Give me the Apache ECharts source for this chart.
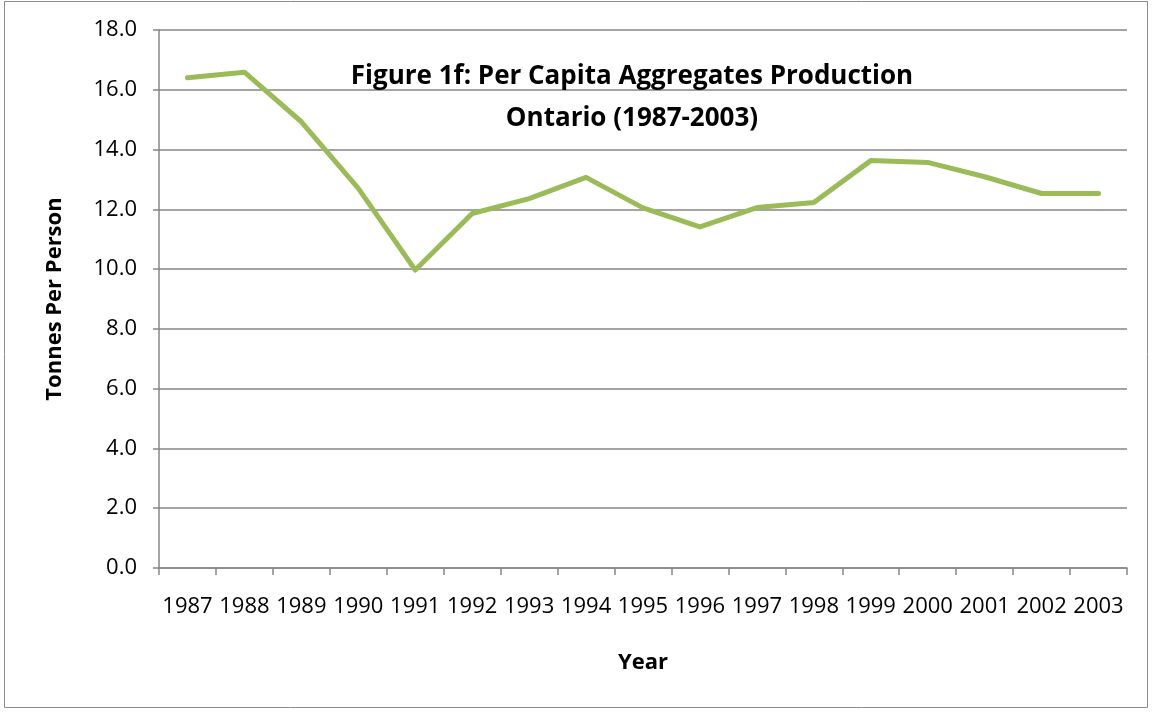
<!DOCTYPE html>
<html>
<head>
<meta charset="utf-8">
<script src="https://cdn.jsdelivr.net/npm/echarts@6/dist/echarts.min.js"></script>
<style>
html,body{margin:0;padding:0;background:#fff;}
#chart{width:1154px;height:713px;}
</style>
</head>
<body>
<div id="chart"></div>
<script>
const years = ['1987','1988','1989','1990','1991','1992','1993','1994','1995','1996','1997','1998','1999','2000','2001','2002','2003'];
const tonnesPerPerson = [16.40,16.59,14.93,12.70,9.97,11.86,12.36,13.07,12.05,11.41,12.06,12.23,13.63,13.57,13.09,12.53,12.53];
const titleLines = ['Figure 1f: Per Capita Aggregates Production','Ontario (1987-2003)'];
const yAxisName = 'Tonnes Per Person';
const xAxisName = 'Year';

const FONT = '"Open Sans", sans-serif';
const chart = echarts.init(document.getElementById('chart'), null, {renderer:'canvas'});
chart.setOption({
  animation:false,
  backgroundColor:'#fff',
  graphic:[{
    type:'rect', shape:{x:4.5,y:1.5,width:1143,height:706},
    style:{fill:'none',stroke:'#8c8c8c',lineWidth:1}, silent:true
  }],
  title:{
    text:titleLines.join('\n'),
    left:627, top:51, textAlign:'center',
    textStyle:{fontFamily:FONT,fontWeight:'bold',fontSize:26,color:'#000',lineHeight:42}
  },
  grid:{left:159,right:27,top:30,bottom:145,containLabel:false},
  xAxis:{
    type:'category', data:years, boundaryGap:true,
    name:xAxisName, nameLocation:'middle', nameGap:84,
    nameTextStyle:{fontFamily:FONT,fontWeight:'bold',fontSize:22,color:'#000'},
    axisLine:{lineStyle:{color:'#868686',width:1.5}},
    axisTick:{show:true,length:7,alignWithLabel:false,lineStyle:{color:'#868686',width:1.5}},
    axisLabel:{fontFamily:FONT,fontSize:22,color:'#000',margin:28,interval:0},
    splitLine:{show:false}
  },
  yAxis:{
    type:'value', min:0, max:18, interval:2,
    name:yAxisName, nameLocation:'middle', nameGap:93, nameRotate:90,
    nameTextStyle:{fontFamily:FONT,fontWeight:'bold',fontSize:22,color:'#000'},
    axisLine:{show:true,lineStyle:{color:'#868686',width:1.5}},
    axisTick:{show:true,inside:false,length:6,lineStyle:{color:'#868686',width:1.5}},
    axisLabel:{fontFamily:FONT,fontSize:22,color:'#000',margin:22,formatter:v=>v.toFixed(1)},
    splitLine:{show:true,lineStyle:{color:'#868686',width:1.5}}
  },
  series:[{
    type:'line', data:tonnesPerPerson, showSymbol:false, symbol:'none',
    lineStyle:{color:'#9BBB59',width:5,cap:'round',join:'round'},
    itemStyle:{color:'#9BBB59'}
  }]
});
</script>
</body>
</html>
